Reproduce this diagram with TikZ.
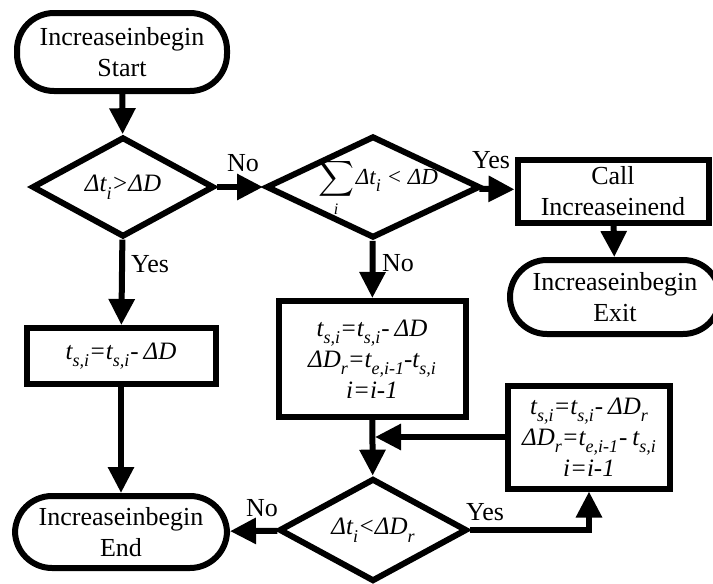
\documentclass[tikz,border=0pt]{standalone}
\usepackage{amsmath}
\usepackage{fontspec}
\setmainfont{Liberation Serif}
\usetikzlibrary{arrows.meta,shapes.geometric,calc}
\newcommand\lo[1]{\raisebox{-0.3em}{\fontsize{18}{18}\selectfont #1}}
\newcommand\mn{\kern1pt-\kern5pt}
\tikzset{
  every node/.style={font=\fontsize{26}{31}\selectfont},
  base/.style={draw, line width=6pt, inner sep=0pt, align=center},
  term/.style={base, rounded corners=37pt},
  procbox/.style={base, rectangle},
  decide/.style={base, diamond},
  conn/.style={line width=6pt, -{Triangle[length=26pt,width=25pt]}},
  lab/.style={inner sep=0pt, font=\fontsize{26}{31}\selectfont},
  mth/.style={font=\fontsize{25}{31}\selectfont\itshape},
  dmth/.style={inner sep=0pt, font=\fontsize{25}{28}\selectfont\itshape},
}
\begin{document}
\begin{tikzpicture}[x=1pt,y=-1pt]
\useasboundingbox (0,0) rectangle (713,584);
\node[term, minimum width=210pt, minimum height=78pt] (start) at (122,52) {Increaseinbegin\\Start};
\node[decide, minimum width=182pt, minimum height=100pt] (d1) at (123,187) {};
\node[dmth] (d1t) at (d1.center) {Δt\lo{i}>ΔD};
\node[decide, minimum width=214pt, minimum height=102pt] (d2) at (373,187) {};
\node[dmth, font=\fontsize{23}{26}\selectfont\itshape] (d2t) at ([xshift=5pt,yshift=-1pt]d2.center) {\raisebox{-1pt}{\(\displaystyle\sum\limits_{\mbox{\fontsize{16}{16}\selectfont\itshape i}}\)}\kern2ptΔt\lo{i} < ΔD};
\node[procbox, minimum width=191pt, minimum height=63pt] (call) at (613,191) {Call\\Increaseinend};
\node[term, minimum width=210pt, minimum height=74pt] (exit) at (615,297) {Increaseinbegin\\Exit};
\node[procbox, minimum width=189pt, minimum height=56pt, mth] (box1) at (121,356) {t\lo{s,i}=t\lo{s,i}\mn ΔD};
\node[procbox, minimum width=187pt, minimum height=116pt, mth] (box2) at (372,359) {t\lo{s,i}=t\lo{s,i}\mn ΔD\\ΔD\lo{r}=t\lo{e,i-1}-t\lo{s,i}\\i=i-1};
\node[procbox, minimum width=162pt, minimum height=103pt, mth] (box3) at (589,437) {t\lo{s,i}=t\lo{s,i}\mn ΔD\lo{r}\\ΔD\lo{r}=t\lo{e,i-1}\mn t\lo{s,i}\\i=i-1};
\node[decide, minimum width=188pt, minimum height=103pt] (d3) at (373,530) {};
\node[dmth] (d3t) at (d3.center) {Δt\lo{i}<ΔD\lo{r}};
\node[term, minimum width=212pt, minimum height=72pt] (end) at (121,532) {Increaseinbegin\\End};

\draw[conn] (start) -- (d1);
\draw[conn] (d1) -- (d2);
\draw[conn] (d2) -- (call);
\draw[conn] (call) -- (exit);
\draw[conn] (d1) -- (box1);
\draw[conn] (box1) -- (end);
\draw[conn] (d2) -- (box2);
\draw[conn] (box2) -- (d3);
\coordinate (m) at (box3.west -| box2.south);
\draw[conn] (box3.west) -- ([xshift=3pt]m);
\draw[conn] (d3.east) -| (box3.south);
\draw[conn] (d3) -- (end);

\node[lab] at (243,163) {No};
\node[lab] at (150,264) {Yes};
\node[lab] at (398,263) {No};
\node[lab] at (491,160) {Yes};
\node[lab] at (485,512) {Yes};
\node[lab] at (262,508) {No};
\end{tikzpicture}
\end{document}
